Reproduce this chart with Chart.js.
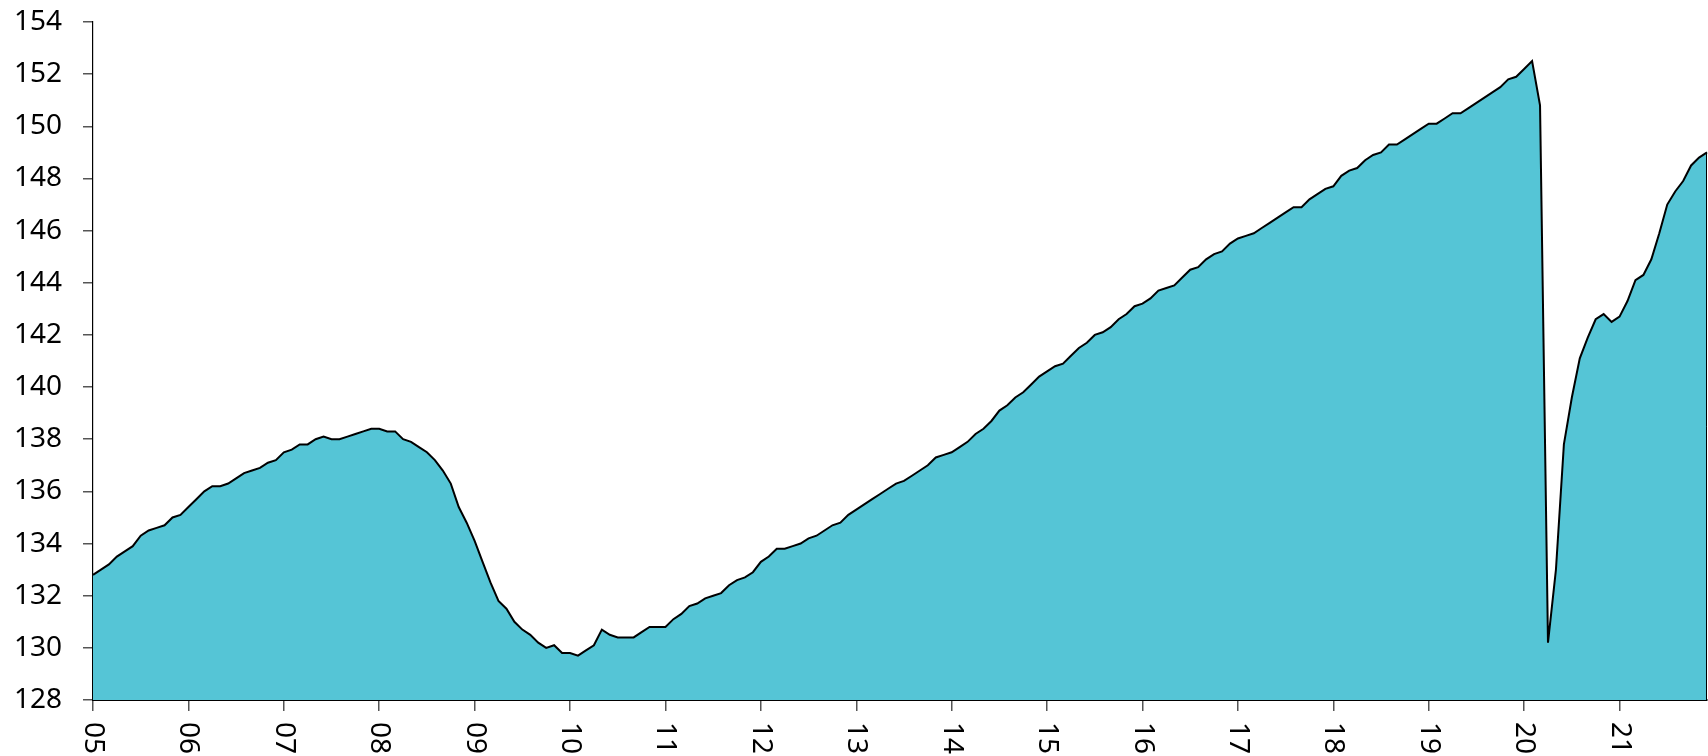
<!DOCTYPE html>
<html>
<head>
<meta charset="utf-8">
<script src="https://cdn.jsdelivr.net/npm/chart.js@4.4.0/dist/chart.umd.min.js"></script>
<style>
  html, body { margin: 0; padding: 0; background: #fff; }
  #wrap { width: 1708px; height: 756px; }
</style>
</head>
<body>
<div id="wrap"><canvas id="jobsChart" width="1708" height="756"></canvas></div>
<script>
// Year tick labels, one per January
const yearLabels = ['05', '06', '07', '08', '09', '10', '11', '12', '13',
                    '14', '15', '16', '17', '18', '19', '20', '21'];

// Monthly values, Jan 2005 .. Dec 2021, one row per year
const payrolls = [
    132.8, 133.0, 133.2, 133.5, 133.7, 133.9, 134.3, 134.5, 134.6, 134.7, 135.0, 135.1,
    135.4, 135.7, 136.0, 136.2, 136.2, 136.3, 136.5, 136.7, 136.8, 136.9, 137.1, 137.2,
    137.5, 137.6, 137.8, 137.8, 138.0, 138.1, 138.0, 138.0, 138.1, 138.2, 138.3, 138.4,
    138.4, 138.3, 138.3, 138.0, 137.9, 137.7, 137.5, 137.2, 136.8, 136.3, 135.4, 134.8,
    134.1, 133.3, 132.5, 131.8, 131.5, 131.0, 130.7, 130.5, 130.2, 130.0, 130.1, 129.8,
    129.8, 129.7, 129.9, 130.1, 130.7, 130.5, 130.4, 130.4, 130.4, 130.6, 130.8, 130.8,
    130.8, 131.1, 131.3, 131.6, 131.7, 131.9, 132.0, 132.1, 132.4, 132.6, 132.7, 132.9,
    133.3, 133.5, 133.8, 133.8, 133.9, 134.0, 134.2, 134.3, 134.5, 134.7, 134.8, 135.1,
    135.3, 135.5, 135.7, 135.9, 136.1, 136.3, 136.4, 136.6, 136.8, 137.0, 137.3, 137.4,
    137.5, 137.7, 137.9, 138.2, 138.4, 138.7, 139.1, 139.3, 139.6, 139.8, 140.1, 140.4,
    140.6, 140.8, 140.9, 141.2, 141.5, 141.7, 142.0, 142.1, 142.3, 142.6, 142.8, 143.1,
    143.2, 143.4, 143.7, 143.8, 143.9, 144.2, 144.5, 144.6, 144.9, 145.1, 145.2, 145.5,
    145.7, 145.8, 145.9, 146.1, 146.3, 146.5, 146.7, 146.9, 146.9, 147.2, 147.4, 147.6,
    147.7, 148.1, 148.3, 148.4, 148.7, 148.9, 149.0, 149.3, 149.3, 149.5, 149.7, 149.9,
    150.1, 150.1, 150.3, 150.5, 150.5, 150.7, 150.9, 151.1, 151.3, 151.5, 151.8, 151.9,
    152.2, 152.5, 150.8, 130.2, 133.0, 137.8, 139.6, 141.1, 141.9, 142.6, 142.8, 142.5,
    142.7, 143.3, 144.1, 144.3, 144.9, 145.9, 147.0, 147.5, 147.9, 148.5, 148.8, 149.0
];

// Y axis range
const yMin = 128;
const yMax = 154;
const yStep = 2;

// one category per month, e.g. "05-01"
const monthLabels = [];
yearLabels.forEach(y => {
    for (let m = 1; m <= 12; m++) {
        monthLabels.push(y + '-' + String(m).padStart(2, '0'));
    }
});

const FONT = "'Noto Sans', 'DejaVu Sans', sans-serif";

// Draws the year labels turned clockwise under each January tick
const yearLabelPlugin = {
    id: 'yearLabels',
    afterDraw(chart) {
        const ctx = chart.ctx;
        const xs = chart.scales.x;
        const area = chart.chartArea;
        ctx.save();
        ctx.fillStyle = '#000';
        ctx.font = '28px ' + FONT;
        ctx.textAlign = 'left';
        ctx.textBaseline = 'middle';
        xs.ticks.forEach((t, i) => {
            const x = xs.getPixelForTick(i);
            ctx.save();
            ctx.translate(x, area.bottom + 22);
            ctx.rotate(Math.PI / 2);
            ctx.fillText(yearLabels[i], 0, 0);
            ctx.restore();
        });

        // closing edge of the area on the right
        const meta = chart.getDatasetMeta(0);
        const last = meta.data[meta.data.length - 1];
        ctx.strokeStyle = '#000';
        ctx.lineWidth = 1;
        ctx.beginPath();
        ctx.moveTo(last.x - 0.5, last.y);
        ctx.lineTo(last.x - 0.5, area.bottom);
        ctx.stroke();
        ctx.restore();
    }
};

new Chart(document.getElementById('jobsChart'), {
    type: 'line',
    data: {
        labels: monthLabels,
        datasets: [{
            data: payrolls,
            borderColor: '#000',
            backgroundColor: '#55c5d6',
            borderWidth: 2,
            fill: 'start',
            pointRadius: 0,
            tension: 0
        }]
    },
    options: {
        responsive: false,
        animation: false,
        layout: {
            padding: { top: 22, right: 1, left: 0, bottom: 0 }
        },
        plugins: {
            legend: { display: false },
            tooltip: { enabled: false }
        },
        scales: {
            x: {
                type: 'category',
                offset: false,
                afterBuildTicks: (scale) => {
                    // keep only the January ticks
                    scale.ticks = scale.ticks.filter(t => t.value % 12 === 0);
                },
                afterFit: (scale) => { scale.height = 56; },
                grid: {
                    drawOnChartArea: false,
                    drawTicks: true,
                    tickLength: 11,
                    color: '#555',
                    lineWidth: 1.5
                },
                border: { display: true, color: '#000', width: 2 },
                ticks: { display: false, autoSkip: false }
            },
            y: {
                min: yMin,
                max: yMax,
                afterFit: (scale) => {
                    scale.width = 93;
                    // the tick padding would otherwise push the plot down
                    scale.paddingTop = 0;
                    scale.paddingBottom = 0;
                },
                grid: {
                    drawOnChartArea: false,
                    drawTicks: true,
                    tickLength: 10,
                    color: '#555',
                    lineWidth: 1.5
                },
                border: { display: true, color: '#000', width: 1.2 },
                ticks: {
                    stepSize: yStep,
                    color: '#000',
                    padding: 21,
                    font: { family: FONT, size: 28 }
                }
            }
        }
    },
    plugins: [yearLabelPlugin]
});
</script>
</body>
</html>
